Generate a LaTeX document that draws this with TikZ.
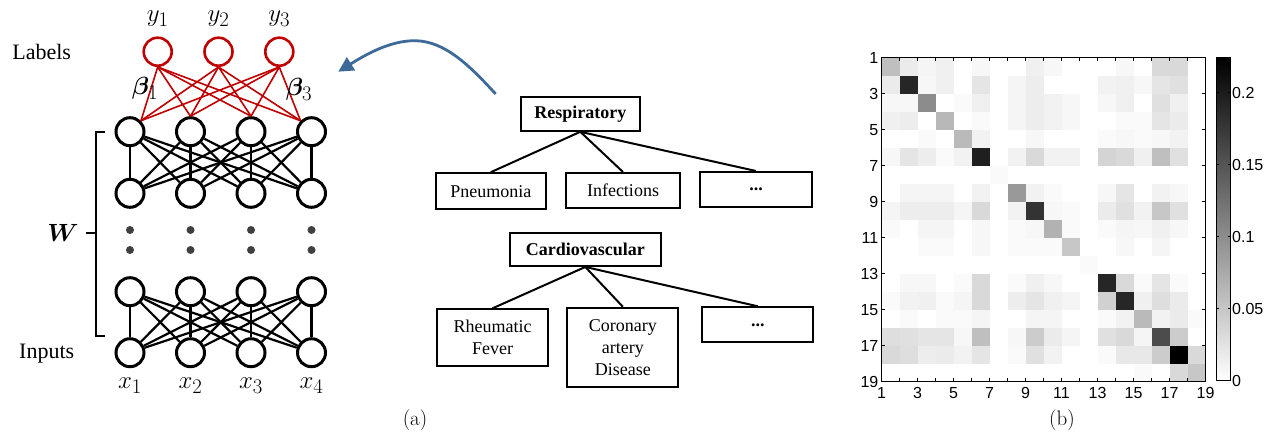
\documentclass[tikz,border=0pt]{standalone}
\usepackage{amsmath}
\usepackage{bm}
\usepackage{fontspec}
\newfontfamily\tnr{Liberation Serif}
\newfontfamily\hel{Liberation Sans}
\usetikzlibrary{arrows.meta}
\definecolor{labred}{HTML}{C00000}
\definecolor{arrowblue}{HTML}{3E6A9A}
\definecolor{dotgray}{HTML}{404040}
\tikzset{
  neuron/.style={circle, draw=black, line width=3pt, minimum size=28pt, inner sep=0pt},
  labneuron/.style={circle, draw=labred, line width=2.6pt, minimum size=28pt, inner sep=0pt},
  conn/.style={line width=2.2pt},
  redconn/.style={draw=labred, line width=1.6pt},
  tbox/.style={draw, line width=2pt, align=center, inner sep=0pt, font=\tnr\fontsize{18}{22}\selectfont},
  tedge/.style={line width=2pt},
  sidelab/.style={font=\tnr\fontsize{22}{26}\selectfont},
  mathlab/.style={font=\fontsize{28}{32}\selectfont},
  ticklab/.style={font=\hel\fontsize{16}{18}\selectfont},
  caplab/.style={font=\fontsize{21}{24}\selectfont}
}
\def\hmA{25,8,4,6,0,3,0,0,6,3,0,0,0,3,0,15,15,0}
\def\hmB{8,85,3,6,0,10,0,4,7,0,0,0,5,6,3,10,12,0}
\def\hmC{3,3,45,0,2,6,0,4,7,5,3,0,3,6,0,12,6,0}
\def\hmD{6,7,0,28,0,2,0,4,7,5,3,0,0,2,2,10,8,0}
\def\hmE{0,0,2,0,27,5,0,0,3,0,0,0,2,3,2,3,5,0}
\def\hmF{3,10,7,2,5,88,0,5,15,5,5,0,17,15,6,25,12,0}
\def\hmG{0,0,0,0,0,0,2,0,0,0,0,0,0,0,0,0,0,0}
\def\hmH{0,4,4,4,0,5,0,40,5,2,0,0,3,10,0,5,3,0}
\def\hmI{4,7,7,7,4,15,0,5,80,3,2,0,8,12,5,22,12,0}
\def\hmJ{2,0,4,4,0,3,0,2,3,30,2,0,2,4,3,6,3,0}
\def\hmK{0,0,2,2,0,3,0,2,2,2,22,0,0,3,0,4,0,0}
\def\hmL{0,0,0,0,0,0,0,0,0,0,0,2,0,0,0,0,0,0}
\def\hmM{0,3,3,0,2,15,0,2,6,3,0,0,85,15,2,10,2,0}
\def\hmN{2,5,6,2,4,15,0,7,10,6,4,0,18,85,6,13,8,0}
\def\hmO{0,2,0,2,2,4,0,0,4,4,0,0,2,5,27,5,8,2}
\def\hmP{13,12,10,10,3,25,0,3,20,8,4,0,12,15,4,70,20,0}
\def\hmQ{15,13,7,8,5,10,0,2,12,5,0,0,2,9,9,20,100,15}
\def\hmR{0,0,0,0,0,0,0,0,0,0,0,0,0,0,2,0,15,22}
\begin{document}
\begin{tikzpicture}[x=1pt,y=-1pt]
\useasboundingbox (0,0) rectangle (1276,437);

% ---------------- network ----------------
\node[labneuron] (y1) at (157.7,51.7) {};
\node[labneuron] (y2) at (218.5,51.7) {};
\node[labneuron] (y3) at (279.3,51.7) {};
\foreach \n/\x in {1/130,2/190.5,3/251,4/311.5}{
  \node[neuron] (h\n) at (\x,131.7) {};
  \node[neuron] (g\n) at (\x,193.3) {};
  \node[neuron] (k\n) at (\x,291.7) {};
  \node[neuron] (i\n) at (\x,352.7) {};
  \fill[dotgray] (\x,230) circle (4);
  \fill[dotgray] (\x,250) circle (4);
}
\foreach \a in {1,2,3,4}{
  \foreach \b in {1,2,3,4}{
    \draw[conn] (h\a) -- (g\b);
    \draw[conn] (k\a) -- (i\b);
  }
}
\foreach \m in {1,2,3}{
  \draw[redconn] (y\m.south) -- (h1.45);
  \draw[redconn] (y\m.south) -- (h2.north);
  \draw[redconn] (y\m.south) -- (h3.north);
  \draw[redconn] (y\m.south) -- (h4.135);
}
\node[mathlab] (ly1) at (157.7,19) {$y_1$};
\node[mathlab] (ly2) at (218.5,19) {$y_2$};
\node[mathlab] (ly3) at (279.3,19) {$y_3$};
\node[mathlab] (lx1) at (130,386) {$x_1$};
\node[mathlab] (lx2) at (190.5,386) {$x_2$};
\node[mathlab] (lx3) at (251,386) {$x_3$};
\node[mathlab] (lx4) at (311.5,386) {$x_4$};
\node[mathlab] (b1) at (145,88) {$\bm{\beta}_1$};
\node[mathlab] (b3) at (299,89) {$\bm{\beta}_3$};
\node[sidelab] (lab) at (41.7,52) {Labels};
\node[sidelab] (inp) at (46.7,354) {Inputs};
\draw[line width=2.2pt] (105,131.7) -- (95.7,131.7) -- (95.7,336) -- (105,336);
\coordinate (wtick) at (95.7,233.3);
\node[font=\fontsize{30}{34}\selectfont] (W) at (63,233.3) {$\bm{W}$};
\draw[line width=2.2pt] (wtick) -- ++(-10,0);

% ---------------- tree ----------------
\node[tbox, minimum width=119pt, minimum height=34pt] (resp) at (580.3,113.8) {\bfseries Respiratory};
\node[tbox, minimum width=110pt, minimum height=36pt] (pneu) at (490.8,191.2) {Pneumonia};
\node[tbox, minimum width=114pt, minimum height=35pt] (infe) at (623,190.5) {Infections};
\node[tbox, minimum width=112pt, minimum height=35pt] (dot1) at (756,189.5) {\bfseries ...};
\node[tbox, minimum width=150.7pt, minimum height=33.3pt] (card) at (585.3,249.3) {\bfseries Cardiovascular};
\node[tbox, minimum width=110.4pt, minimum height=56.7pt] (rheu) at (492.5,337.7) {Rheumatic\\Fever};
\node[tbox, minimum width=111pt, minimum height=79pt] (coro) at (622.8,347.2) {Coronary\\artery\\Disease};
\node[tbox, minimum width=111pt, minimum height=35pt] (dot2) at (757.8,324.8) {\bfseries ...};
\draw[tedge] (resp.south) -- (pneu.north);
\draw[tedge] (resp.south) -- (infe.north);
\draw[tedge] (resp.south) -- (dot1.north);
\draw[tedge] (card.south) -- (rheu.north);
\draw[tedge] (card.south) -- (coro.north);
\draw[tedge] (card.south) -- (dot2.north);

% ---------------- blue arrow ----------------
\coordinate (arrs) at (495.7,94);
\coordinate (arrm) at (415,40.7);
\coordinate (arre) at (338.3,71.7);
\draw[arrowblue, line width=2.8pt, -{Triangle[length=15pt,width=15pt]}]
  (arrs) .. controls (470,66) and (445,41) .. (arrm)
  .. controls (390,40.5) and (365,55) .. (arre);

\node[caplab] (capa) at (415,420) {(a)};

% ---------------- heat map ----------------
\foreach \rowv [count=\r] in {\hmA,\hmB,\hmC,\hmD,\hmE,\hmF,\hmG,\hmH,\hmI,\hmJ,\hmK,\hmL,\hmM,\hmN,\hmO,\hmP,\hmQ,\hmR}{
  \edef\currow{\rowv}
  \foreach \v [count=\c] in \currow {
    \fill[black!\v] ({881.5+18*(\c-1)},{57.7+18*(\r-1)}) rectangle ++(18,18);
  }
}
\draw[line width=1.1pt] (881.5,57.7) rectangle (1205.5,381.7);
\foreach \n in {1,...,19}{
  \draw[line width=0.6pt] ({881.5+18*(\n-1)},381.7) -- ++(0,-3.5);
  \draw[line width=0.6pt] ({881.5+18*(\n-1)},57.7) -- ++(0,3.5);
}
\foreach \n in {1,3,...,19}{
  \draw[line width=0.6pt] (881.5,{57.7+18*(\n-1)}) -- ++(3.5,0);
  \draw[line width=0.6pt] (1205.5,{57.7+18*(\n-1)}) -- ++(-3.5,0);
  \node[ticklab, anchor=east, inner sep=0pt] at (878.5,{57.7+18*(\n-1)}) {\n};
  \node[ticklab, inner sep=0pt] at ({881.5+18*(\n-1)},393) {\n};
}
% colour bar
\shade[top color=black, bottom color=white] (1216,57.3) rectangle (1230.7,380.7);
\draw[line width=1pt] (1216,57.3) rectangle (1230.7,380.7);
\foreach \t/\lab in {0/0,1/0.05,2/0.1,3/0.15,4/0.2}{
  \draw[line width=0.6pt] (1216,{380.7-72*\t}) -- ++(3,0);
  \draw[line width=0.6pt] (1230.7,{380.7-72*\t}) -- ++(-3,0);
  \node[ticklab, anchor=west, inner sep=0pt] at (1232,{380.7-72*\t}) {\lab};
}
\node[caplab] (capb) at (1062,420) {(b)};
\end{tikzpicture}
\end{document}
